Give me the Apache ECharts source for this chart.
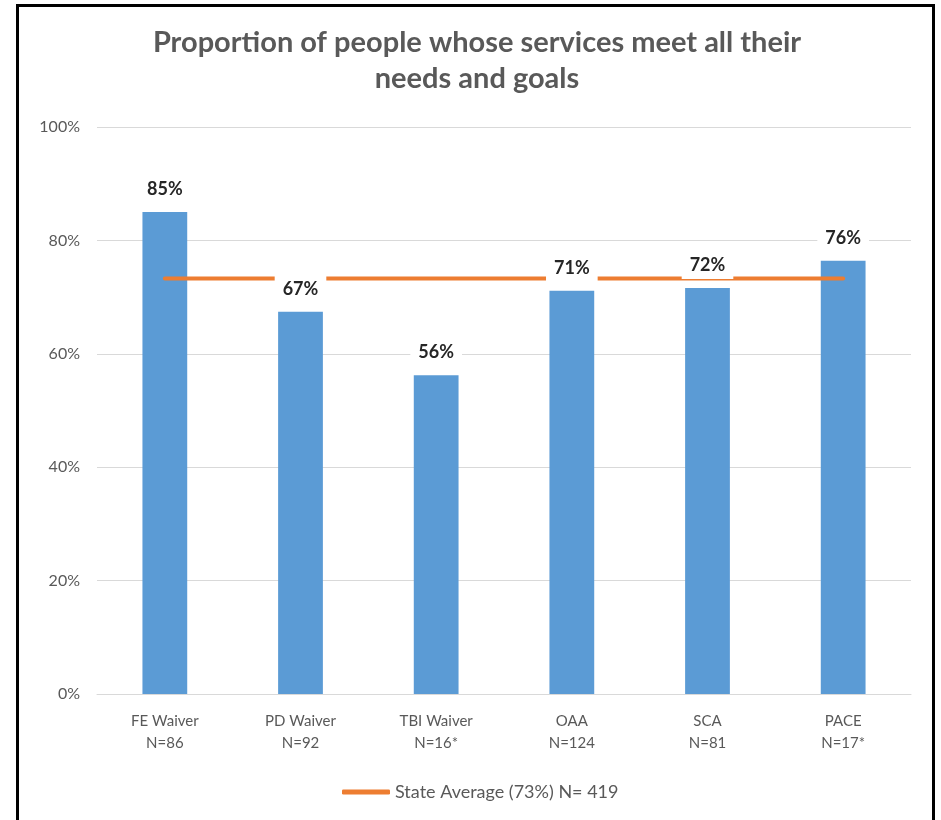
<!DOCTYPE html>
<html>
<head>
<meta charset="utf-8">
<script src="https://cdn.jsdelivr.net/npm/echarts@6/dist/echarts.min.js"></script>
<style>
    html, body { margin: 0; padding: 0; background: #fff; overflow: hidden; }
    #chart { position: absolute; left: 0; top: 0; width: 941px; height: 820px; }
    #frame { position: absolute; left: 16px; top: 4px; width: 919px; height: 900px;
             box-sizing: border-box; border: 3px solid #000; pointer-events: none; }
</style>
</head>
<body>
<div id="chart"></div>
<div id="frame"></div>
<script>
var categories = ['FE Waiver\nN=86', 'PD Waiver\nN=92', 'TBI Waiver\nN=16*', 'OAA\nN=124', 'SCA\nN=81', 'PACE\nN=17*'];
var proportions = [85, 67.4, 56.2, 71.1, 71.6, 76.4];
var stateAverage = [73.3, 73.3, 73.3, 73.3, 73.3, 73.3];
var yTicks = [0, 20, 40, 60, 80, 100];
var legendName = 'State Average (73%) N= 419';

var font = 'Lato, "Open Sans", sans-serif';
var chart = echarts.init(document.getElementById('chart'));

var option = {
    animation: false,
    textStyle: { fontFamily: font },
    title: {
        text: 'Proportion of people whose services meet all their\nneeds and goals',
        left: 477,
        top: 25,
        textAlign: 'center',
        padding: 0,
        textStyle: { fontFamily: font, fontSize: 29, fontWeight: 'bold', color: '#595959', lineHeight: 36 }
    },
    legend: {
        data: [{ name: legendName, icon: 'roundRect' }],
        left: 337,
        top: 778,
        itemWidth: 48,
        itemHeight: 5,
        textStyle: { fontFamily: font, fontSize: 18, color: '#595959' }
    },
    grid: { left: 97, right: 30, top: 127, bottom: 126 },
    xAxis: {
        type: 'category',
        data: categories,
        axisTick: { show: false },
        axisLine: { lineStyle: { color: '#D9D9D9', width: 1 } },
        axisLabel: { margin: 16, fontFamily: font, fontSize: 15, color: '#595959', lineHeight: 22 }
    },
    yAxis: {
        type: 'value',
        min: yTicks[0],
        max: yTicks[yTicks.length - 1],
        interval: 20,
        axisLine: { show: false },
        axisTick: { show: false },
        splitLine: { lineStyle: { color: '#D9D9D9', width: 1 } },
        axisLabel: { margin: 17, fontFamily: font, fontSize: 16, color: '#595959', formatter: '{value}%' }
    },
    series: [
        {
            name: 'bars',
            type: 'bar',
            data: proportions,
            barWidth: '33%',
            barGap: '-100%',
            z: 2,
            itemStyle: { color: '#5B9BD5' }
        },
        {
            name: legendName,
            type: 'line',
            data: stateAverage,
            symbol: 'none',
            z: 3,
            lineStyle: { color: '#ED7D31', width: 4, cap: 'round' },
            itemStyle: { color: '#ED7D31' }
        },
        {
            name: 'labels',
            type: 'bar',
            data: proportions,
            barWidth: '33%',
            barGap: '-100%',
            z: 4,
            silent: true,
            itemStyle: { color: 'rgba(0,0,0,0)' },
            label: {
                show: true,
                position: 'top',
                distance: 9,
                backgroundColor: '#fff',
                padding: [5, 8],
                fontFamily: font,
                fontSize: 18,
                fontWeight: 'bold',
                color: '#262626',
                formatter: function (p) { return Math.round(p.value) + '%'; }
            }
        }
    ]
};
chart.setOption(option);
</script>
</body>
</html>
